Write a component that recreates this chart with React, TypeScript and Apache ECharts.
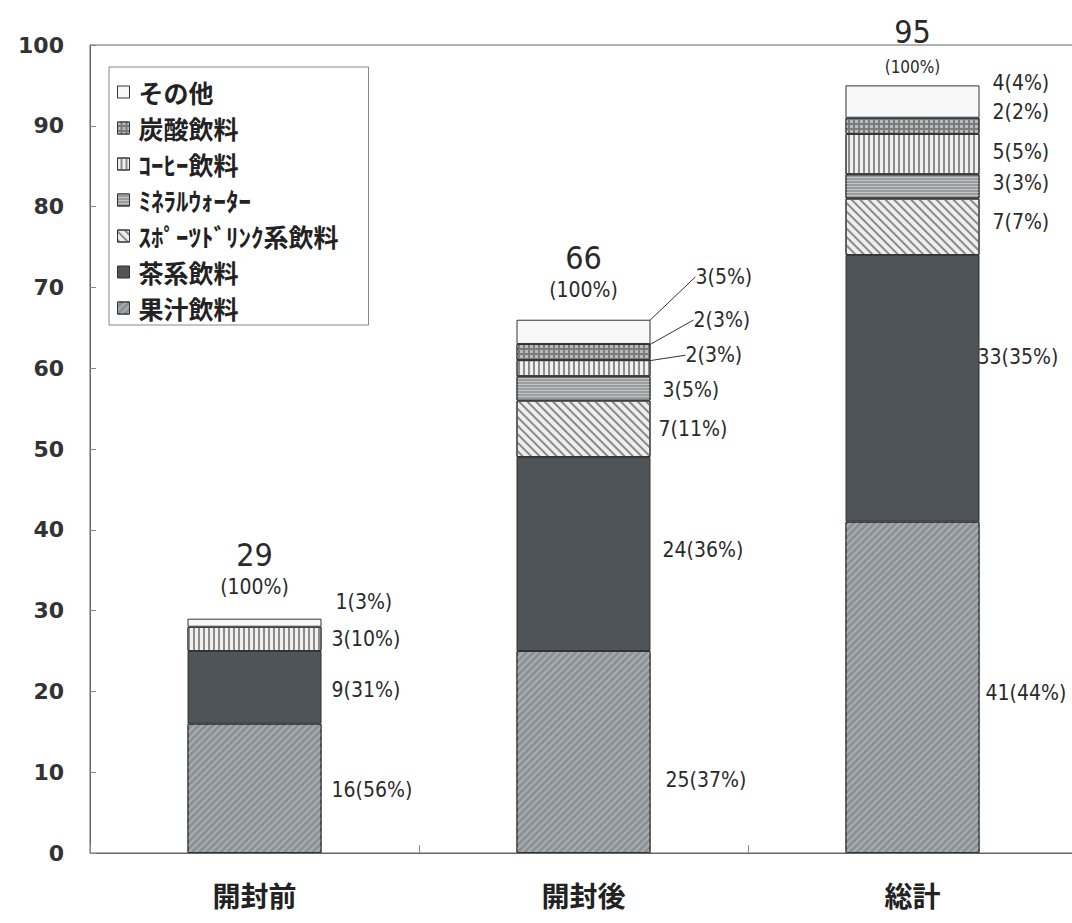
import React, { useEffect, useRef } from "react";
import * as echarts from "echarts";

const categories = ["開封前", "開封後", "総計"];
const seriesNames = ["果汁飲料", "茶系飲料", "ｽﾎﾟｰﾂﾄﾞﾘﾝｸ系飲料", "ﾐﾈﾗﾙｳｫｰﾀｰ", "ｺｰﾋｰ飲料", "炭酸飲料", "その他"];
const juice = [16, 25, 41];
const tea = [9, 24, 33];
const sports = [null, 7, 7];
const mineral = [null, 3, 3];
const coffee = [3, 2, 5];
const soda = [null, 2, 2];
const other = [1, 3, 4];
const juicePct = [56, 37, 44];
const teaPct = [31, 36, 35];
const sportsPct = [null, 11, 7];
const mineralPct = [null, 5, 3];
const coffeePct = [10, 3, 5];
const sodaPct = [null, 3, 2];
const otherPct = [3, 5, 4];
const totals = [29, 66, 95];
const totalPct = [100, 100, 100];
const yTicks = { min: 0, max: 100, interval: 10 };

const values = [juice, tea, sports, mineral, coffee, soda, other];
const pcts = [juicePct, teaPct, sportsPct, mineralPct, coffeePct, sodaPct, otherPct];

// label nudges [dx, dy] per series / category (layout only)
const labelShift: number[][][] = [
  [[0, 2], [5, 28], [-4, 6]],
  [[0, 3], [2, -4], [-12, -31]],
  [[0, 0], [-2, 0], [3, -5]],
  [[0, 0], [2, 2], [3, -3]],
  [[0, 0], [25, -13], [3, -2]],
  [[0, 0], [33, -32], [3, -14]],
  [[4, -21], [35, -55], [3, -19]],
];
const guided: boolean[][] = [
  [false, false, false], [false, false, false], [false, false, false], [false, false, false],
  [false, true, false], [false, true, false], [false, true, false],
];

const numFont = "'Liberation Sans Narrow', 'DejaVu Sans Condensed', 'Roboto Condensed', 'DejaVu Sans', 'Noto Sans CJK JP', sans-serif";
const cjkFont = "'Noto Sans CJK JP', sans-serif";

const styles: any[] = [
  { color: "#8b9195", decal: { symbol: "rect", symbolSize: 1, color: "#a9aeb1", backgroundColor: "#8b9195", dashArrayX: [1, 0], dashArrayY: [2, 3], rotation: -Math.PI / 4 } },
  { color: "#4e5457" },
  { color: "#eeeeee", decal: { symbol: "rect", symbolSize: 1, color: "#8a8a8a", backgroundColor: "#eeeeee", dashArrayX: [1, 0], dashArrayY: [2, 4], rotation: Math.PI / 4 } },
  { color: "#999d9f", decal: { symbol: "rect", symbolSize: 1, color: "#c2c5c6", backgroundColor: "#999d9f", dashArrayX: [1, 0], dashArrayY: [1, 2] } },
  { color: "#f0f0f0", decal: { symbol: "rect", symbolSize: 1, color: "#8c8c8c", backgroundColor: "#f0f0f0", dashArrayX: [1, 0], dashArrayY: [1.5, 3], rotation: Math.PI / 2 } },
  { color: "#787c7e", decal: { symbol: "rect", symbolSize: 1, color: "#b9bcbd", backgroundColor: "#787c7e", dashArrayX: [3, 1.5], dashArrayY: [3, 1.5] } },
  { color: "#f8f8f8" },
];

export default function App() {
  const ref = useRef<HTMLDivElement>(null);
  useEffect(() => {
    if (!ref.current) return;
    const chart = echarts.init(ref.current, null, { renderer: "svg" });
    const stackSeries = values.map((vals, si) => ({
      name: seriesNames[si],
      type: "bar",
      stack: "s",
      barWidth: 134,
      itemStyle: { ...styles[si], borderColor: "#333", borderWidth: 1 },
      label: {
        show: true,
        position: "right",
        distance: 10,
        color: "#2a2a2a",
        fontSize: 21,
        fontFamily: numFont,
        formatter: (p: any) => `${p.value}(${pcts[si][p.dataIndex]}%)`,
      },
      labelLayout: (p: any) => ({ dx: labelShift[si][p.dataIndex][0], dy: labelShift[si][p.dataIndex][1] }),
      labelLine: { show: false, lineStyle: { color: "#333", width: 1 } },
      data: vals.map((v, ci) =>
        v == null
          ? null
          : guided[si][ci]
          ? { value: v, labelLine: { show: true, length2: 0, lineStyle: { color: "#333", width: 1 } } }
          : v
      ),
      z: 2,
    }));
    const totalLabelStyle = [
      { distance: 17, small: 21, smallLH: 30, bigLH: 34 },
      { distance: 15, small: 21, smallLH: 30, bigLH: 34 },
      { distance: 5, small: 17, smallLH: 26, bigLH: 44 },
    ];
    const totalSeries = {
      name: "合計",
      type: "bar",
      barWidth: 134,
      barGap: "-100%",
      silent: true,
      itemStyle: { color: "rgba(0,0,0,0)" },
      z: 1,
      data: totals.map((t, i) => ({
        value: t,
        label: {
          show: true,
          position: "top",
          distance: totalLabelStyle[i].distance,
          formatter: `{a|${t}}\n{b|(${totalPct[i]}%)}`,
          rich: {
            a: { fontSize: 32, lineHeight: totalLabelStyle[i].bigLH, color: "#2a2a2a", fontFamily: numFont, align: "center" },
            b: { fontSize: totalLabelStyle[i].small, lineHeight: totalLabelStyle[i].smallLH, color: "#2a2a2a", fontFamily: numFont, align: "center" },
          },
        },
      })),
    };
    chart.setOption({
      animation: false,
      backgroundColor: "#ffffff",
      grid: { left: 90, top: 45, right: 3, bottom: 70, show: true, borderColor: "#666", borderWidth: 1, backgroundColor: "transparent" },
      legend: {
        data: [...seriesNames].reverse(),
        orient: "vertical",
        left: 109,
        top: 67,
        padding: [12, 30, 4, 8],
        itemGap: 10,
        itemWidth: 12,
        itemHeight: 12,
        icon: "rect",
        borderColor: "#888",
        borderWidth: 1,
        backgroundColor: "#fff",
        textStyle: { fontSize: 25, lineHeight: 26, color: "#222", fontFamily: cjkFont, fontWeight: "bold", padding: [0, 0, 0, 4] },
        itemStyle: { borderColor: "#333", borderWidth: 1 },
      },
      xAxis: {
        type: "category",
        data: categories,
        axisLine: { lineStyle: { color: "#666", width: 1 } },
        axisTick: { show: true, inside: true, length: 8, lineStyle: { color: "#888" } },
        axisLabel: { fontSize: 28, fontWeight: "bold", color: "#222", margin: 28, fontFamily: cjkFont },
      },
      yAxis: {
        type: "value",
        min: yTicks.min,
        max: yTicks.max,
        interval: yTicks.interval,
        axisLine: { show: true, lineStyle: { color: "#666", width: 1 } },
        axisTick: { show: true, inside: true, length: 6, lineStyle: { color: "#888" } },
        splitLine: { show: false },
        axisLabel: { fontSize: 22, fontWeight: "bold", color: "#333", margin: 26, fontFamily: "'DejaVu Sans', 'Liberation Sans', sans-serif" },
      },
      series: [...stackSeries, totalSeries],
    });
    return () => chart.dispose();
  }, []);
  return (
    <div style={{ position: "absolute", left: 0, top: 0, width: 1072, height: 923, overflow: "hidden" }}>
      <div ref={ref} style={{ width: 1080, height: 923 }} />
    </div>
  );
}
